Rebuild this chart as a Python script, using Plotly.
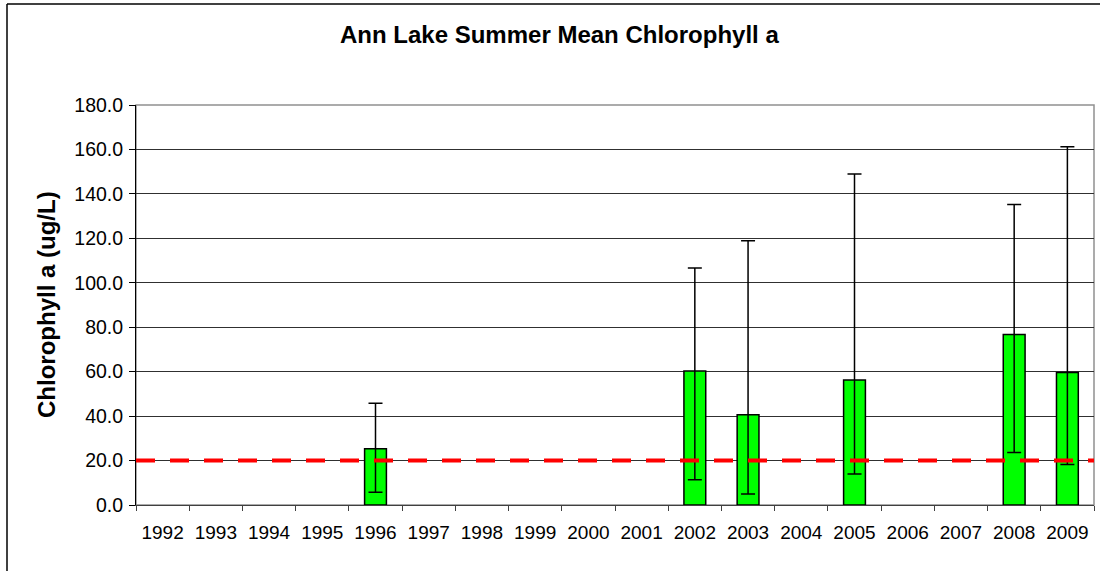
import plotly.graph_objects as go

years = [str(y) for y in range(1992, 2010)]
means = [None, None, None, None, 25.3, None, None, None, None, None,
         60.3, 40.6, None, 56.2, None, None, 76.7, 59.6]
upper = [None, None, None, None, 45.8, None, None, None, None, None,
         106.7, 118.9, None, 149.0, None, None, 135.2, 161.2]
lower = [None, None, None, None, 5.7, None, None, None, None, None,
         11.4, 4.9, None, 14.0, None, None, 23.6, 18.2]
standard = 20.0
yticks = [0, 20, 40, 60, 80, 100, 120, 140, 160, 180]

err_plus = [(u - m) if m is not None else None for m, u in zip(means, upper)]
err_minus = [(m - l) if m is not None else None for m, l in zip(means, lower)]

FONT = "Liberation Sans, Arial, sans-serif"

fig = go.Figure()
fig.add_trace(go.Bar(
    x=years, y=means,
    marker=dict(color="#00FF00", line=dict(color="#000000", width=1.5)),
    width=0.41,
    error_y=dict(type="data", array=err_plus, arrayminus=err_minus,
                 symmetric=False, color="#000000", thickness=1.5, width=7),
    showlegend=False,
))
fig.add_trace(go.Scatter(
    x=[-0.5, len(years) - 0.5], y=[standard, standard], xaxis="x2",
    mode="lines", line=dict(color="#FF0000", width=4, dash="19px,15px"),
    showlegend=False, hoverinfo="skip",
))

W = 1094 - 136
fig.update_layout(
    width=1100, height=571,
    margin=dict(l=136, r=6, t=105, b=66, autoexpand=False),
    paper_bgcolor="white", plot_bgcolor="white",
    font=dict(family=FONT, size=19, color="#000000"),
    xaxis=dict(type="category", categoryorder="array", categoryarray=years,
               tickson="boundaries", ticks="outside", ticklen=5,
               tickcolor="#404040", showline=True, linecolor="#404040",
               linewidth=1, showgrid=False, zeroline=False, automargin=False,
               ticklabelstandoff=10,
               tickfont=dict(size=19), range=[-0.5, len(years) - 0.5]),
    xaxis2=dict(overlaying="x", range=[-0.5, len(years) - 0.5], visible=False),
    yaxis=dict(range=[0, 180], tickvals=yticks,
               ticktext=[f"{v:.1f}" for v in yticks],
               ticks="outside", ticklen=6, tickcolor="#000000",
               showline=True, linecolor="#000000", linewidth=1,
               showgrid=True, gridcolor="#303030", gridwidth=1,
               zeroline=False, automargin=False, ticklabelstandoff=2,
               tickfont=dict(size=19.5)),
    shapes=[
        dict(type="rect", xref="paper", yref="paper", x0=0, x1=1, y0=0, y1=1,
             line=dict(color="#909090", width=1.5), layer="below"),
        dict(type="line", xref="paper", yref="paper",
             x0=(7 - 136) / W, x1=(7 - 136) / W, y0=-0.3, y1=1 + (105 - 4) / 400,
             line=dict(color="#000000", width=1.5)),
        dict(type="line", xref="paper", yref="paper",
             x0=(7 - 136) / W, x1=1.2, y0=1 + (105 - 4) / 400, y1=1 + (105 - 4) / 400,
             line=dict(color="#000000", width=1.5)),
    ],
    annotations=[
        dict(text="<b>Ann Lake Summer Mean Chlorophyll a</b>", xref="paper", yref="paper",
             x=(559 - 136) / W, y=1 + (105 - 34) / 400, xanchor="center", yanchor="middle",
             showarrow=False, font=dict(size=24)),
        dict(text="<b>Chlorophyll a (ug/L)</b>", xref="paper", yref="paper",
             x=(46 - 136) / W, y=0.5, xanchor="center", yanchor="middle",
             textangle=-90, showarrow=False, font=dict(size=24)),
    ],
)

fig.write_html(
    "out.html",
    config={"displayModeBar": False},
    post_script="document.body.style.margin='0';document.body.style.overflow='hidden';",
)
